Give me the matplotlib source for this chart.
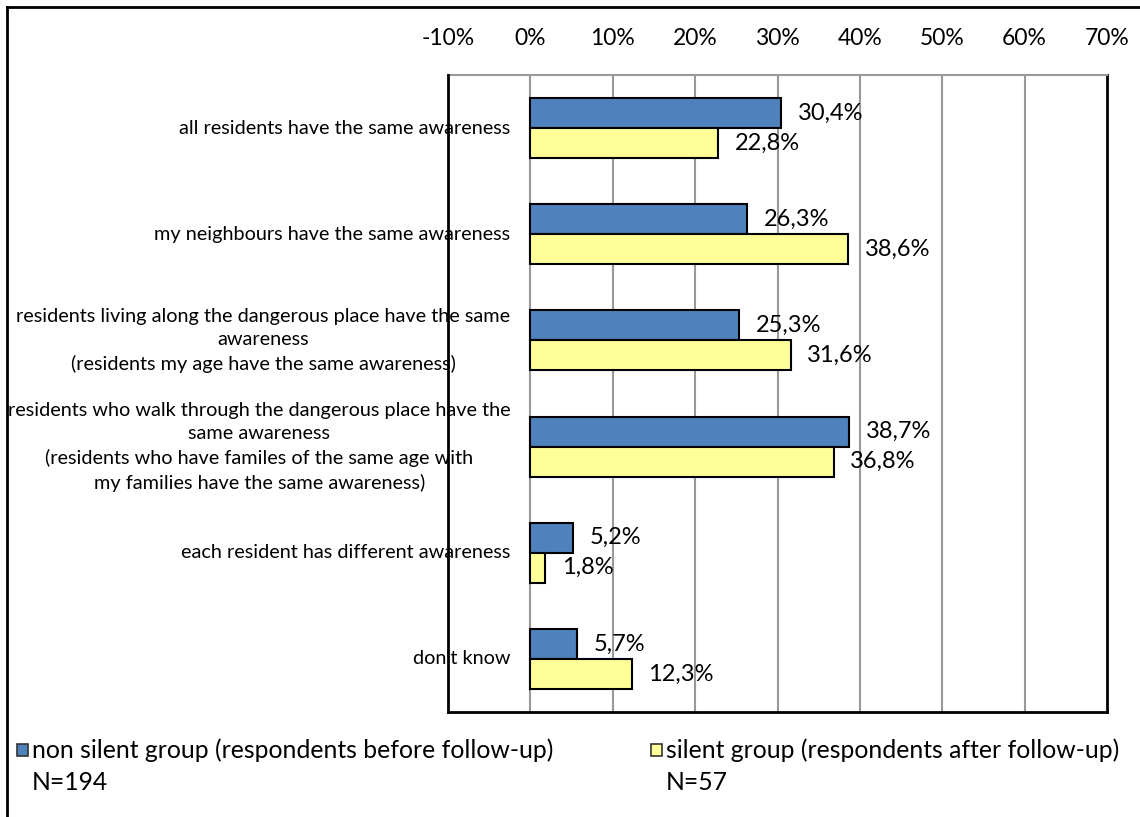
import matplotlib
matplotlib.use("Agg")
import matplotlib.pyplot as plt
import numpy as np
from matplotlib.patches import Rectangle
from matplotlib.lines import Line2D

plt.rcParams["font.family"] = ["Lato", "DejaVu Sans"]

categories = [
    "all residents have the same awareness",
    "my neighbours have the same awareness",
    "residents living along the dangerous place have the same\nawareness\n(residents my age have the same awareness)",
    "residents who walk through the dangerous place have the\nsame awareness\n(residents who have familes of the same age with\nmy families have the same awareness)",
    "each resident has different awareness",
    "don't know",
]
non_silent = [30.4, 26.3, 25.3, 38.7, 5.2, 5.7]
silent = [22.8, 38.6, 31.6, 36.8, 1.8, 12.3]
series_names = ["non silent group (respondents before follow-up)",
                "silent group (respondents after follow-up)"]
series_n = ["N=194", "N=57"]
series_colors = ["#4F81BD", "#FFFF99"]
x_ticks = [-10, 0, 10, 20, 30, 40, 50, 60, 70]

W, H = 1140, 817
fig = plt.figure(figsize=(W / 100, H / 100), dpi=100)
ax = fig.add_axes([448 / W, 1 - 712 / H, (1107 - 448) / W, (712 - 75) / H])

y = np.arange(len(categories))
h = 0.283
for vals, off, col in [(non_silent, -h / 2, series_colors[0]), (silent, h / 2, series_colors[1])]:
    ax.barh(y + off, vals, height=h, color=col, edgecolor="black", linewidth=1.5, zorder=3)
    for yi, v in zip(y + off, vals):
        ax.annotate(f"{v:.1f}%".replace(".", ","), (v, yi), xytext=(12, 0),
                    textcoords="offset points", va="center", ha="left",
                    fontsize=17, zorder=4)

ax.set_xlim(-10, 70)
ax.set_ylim(len(categories) - 0.5, -0.5)
ax.set_xticks(x_ticks)
ax.set_xticklabels([f"{t}%" for t in x_ticks], fontsize=16.5)
ax.xaxis.tick_top()
ax.tick_params(axis="x", length=0, pad=19)
ax.set_yticks([])
for t in x_ticks[1:-1]:
    ax.axvline(t, color="#999999", linewidth=1.5, zorder=1)

for side in ["left", "right", "bottom"]:
    ax.spines[side].set_color("black")
    ax.spines[side].set_linewidth(2)
ax.spines["top"].set_color("#999999")
ax.spines["top"].set_linewidth(1.5)
ax.spines["left"].set_zorder(5)

# category labels, right aligned just left of 0%
for yi, lab in zip(y, categories):
    ax.text(-2.4, yi, lab, ha="right", va="center", multialignment="center",
            fontsize=14.3, clip_on=False, zorder=6, linespacing=1.45)

# legend below the plot
leg_x = [17, 651]
for lx, name, n, col in zip(leg_x, series_names, series_n, series_colors):
    fig.patches.append(Rectangle((lx / W, 1 - 756 / H), 11 / W, 12 / H,
                                 transform=fig.transFigure, facecolor=col,
                                 edgecolor="#333333", linewidth=1.2))
    fig.text((lx + 15) / W, 1 - 750 / H, name, ha="left", va="center", fontsize=17.8)
    fig.text((lx + 15) / W, 1 - 782 / H, n, ha="left", va="center", fontsize=17.8)

# outer chart border
fig.add_artist(Line2D([7 / W, 7 / W], [0, 1 - 7 / H], color="black", linewidth=2,
                      transform=fig.transFigure))
fig.add_artist(Line2D([7 / W, 1], [1 - 7 / H, 1 - 7 / H], color="black", linewidth=2,
                      transform=fig.transFigure))

fig.savefig("out.png", dpi=100)
